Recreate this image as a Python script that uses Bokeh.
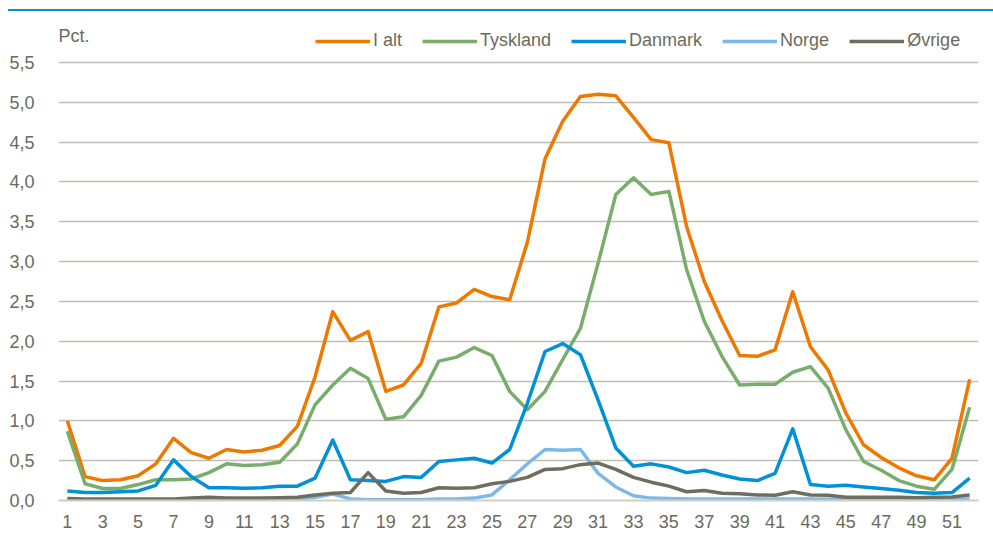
from bokeh.plotting import figure
from bokeh.models import (Range1d, FixedTicker, CustomJSTickFormatter, Legend, LegendItem,
                          Label, Div, ColumnDataSource)
from bokeh.layouts import column
from bokeh.embed import file_html
from bokeh.resources import INLINE

weeks = list(range(1, 53))
x_tick_labels = list(range(1, 53, 2))
y_ticks = [0.0, 0.5, 1.0, 1.5, 2.0, 2.5, 3.0, 3.5, 4.0, 4.5, 5.0, 5.5]

i_alt = [1.00, 0.30, 0.25, 0.26, 0.31, 0.46, 0.78, 0.60, 0.53, 0.64,
         0.61, 0.63, 0.69, 0.93, 1.55, 2.37, 2.01, 2.12, 1.37, 1.45,
         1.72, 2.43, 2.48, 2.65, 2.56, 2.52, 3.24, 4.29, 4.76, 5.07,
         5.10, 5.08, 4.81, 4.53, 4.49, 3.44, 2.75, 2.26, 1.82, 1.81,
         1.89, 2.62, 1.93, 1.64, 1.10, 0.70, 0.54, 0.41, 0.31, 0.26,
         0.53, 1.52]
tyskland = [0.87, 0.21, 0.15, 0.15, 0.20, 0.26, 0.26, 0.27, 0.35, 0.46,
            0.44, 0.45, 0.48, 0.71, 1.20, 1.45, 1.66, 1.53, 1.02, 1.05,
            1.32, 1.75, 1.80, 1.92, 1.82, 1.37, 1.14, 1.37, 1.77, 2.16,
            2.98, 3.84, 4.05, 3.84, 3.88, 2.90, 2.25, 1.81, 1.45, 1.46,
            1.46, 1.61, 1.68, 1.41, 0.89, 0.49, 0.38, 0.25, 0.18, 0.14,
            0.39, 1.17]
danmark = [0.12, 0.10, 0.10, 0.11, 0.12, 0.19, 0.51, 0.30, 0.16, 0.16,
           0.155, 0.16, 0.18, 0.18, 0.28, 0.76, 0.26, 0.25, 0.24, 0.30,
           0.29, 0.49, 0.51, 0.53, 0.47, 0.64, 1.22, 1.87, 1.97, 1.83,
           1.26, 0.66, 0.43, 0.46, 0.42, 0.35, 0.38, 0.32, 0.27, 0.25,
           0.34, 0.90, 0.20, 0.18, 0.19, 0.17, 0.15, 0.13, 0.10, 0.09,
           0.10, 0.28]
norge = [0.01, 0.01, 0.01, 0.01, 0.01, 0.01, 0.01, 0.01, 0.01, 0.01,
         0.01, 0.01, 0.01, 0.02, 0.04, 0.08, 0.02, 0.01, 0.01, 0.01,
         0.01, 0.02, 0.02, 0.03, 0.07, 0.26, 0.46, 0.64, 0.63, 0.64,
         0.34, 0.17, 0.06, 0.03, 0.025, 0.02, 0.02, 0.02, 0.02, 0.02,
         0.02, 0.02, 0.02, 0.015, 0.015, 0.01, 0.01, 0.01, 0.01, 0.01,
         0.01, 0.02]
ovrige = [0.025, 0.02, 0.02, 0.02, 0.02, 0.02, 0.02, 0.03, 0.04, 0.03,
          0.03, 0.03, 0.035, 0.04, 0.07, 0.09, 0.10, 0.35, 0.12, 0.09,
          0.10, 0.16, 0.155, 0.16, 0.21, 0.24, 0.29, 0.39, 0.40, 0.45,
          0.47, 0.39, 0.29, 0.23, 0.18, 0.11, 0.125, 0.09, 0.085, 0.07,
          0.065, 0.11, 0.07, 0.065, 0.04, 0.04, 0.04, 0.04, 0.035, 0.04,
          0.045, 0.07]

series_names = ["I alt", "Tyskland", "Danmark", "Norge", "Øvrige"]
series_values = [i_alt, tyskland, danmark, norge, ovrige]
series_colors = ["#EF7800", "#78AD6C", "#0091D6", "#7DB9E8", "#6E6E60"]

FONT = "Liberation Sans"
TEXT = "#6B6B5C"

p = figure(width=988, height=529, output_backend="svg", toolbar_location=None,
           x_range=Range1d(0.5, 52.5), y_range=Range1d(0, 6.0),
           min_border_left=58, min_border_right=10, min_border_top=11,
           min_border_bottom=40, margin=(0, 0, 0, 0))
p.outline_line_color = None
p.background_fill_color = "white"
p.border_fill_color = "white"

items = []
for name, vals, col in zip(series_names, series_values, series_colors):
    src = ColumnDataSource(dict(x=weeks, y=vals))
    r = p.line("x", "y", source=src, line_color=col, line_width=3.5, line_join="round")
    items.append(LegendItem(label=name, renderers=[r]))

legend = Legend(items=items, orientation="horizontal", location=(257, 449),
                glyph_width=55, glyph_height=20, label_height=20, label_standoff=3,
                spacing=20, padding=0, margin=0, border_line_color=None,
                background_fill_alpha=0, label_text_font=FONT,
                label_text_font_size="18px", label_text_color=TEXT)
p.add_layout(legend)

# axes
p.yaxis.ticker = FixedTicker(ticks=y_ticks)
p.yaxis.formatter = CustomJSTickFormatter(code="return tick.toFixed(1).replace('.', ',');")
p.yaxis.axis_line_color = None
p.yaxis.major_tick_line_color = None
p.yaxis.minor_tick_line_color = None
p.yaxis.major_label_standoff = 18
p.yaxis.major_label_text_font = FONT
p.yaxis.major_label_text_font_size = "18px"
p.yaxis.major_label_text_color = TEXT

p.xaxis.ticker = FixedTicker(ticks=x_tick_labels)
p.xaxis.axis_line_color = "#CFCFC6"
p.xaxis.axis_line_width = 2
p.xaxis.major_tick_line_color = None
p.xaxis.minor_tick_line_color = None
p.xaxis.major_label_standoff = 8
p.xaxis.major_label_text_font = FONT
p.xaxis.major_label_text_font_size = "18px"
p.xaxis.major_label_text_color = TEXT

p.xgrid.grid_line_color = None
p.ygrid.ticker = FixedTicker(ticks=y_ticks[1:])
p.ygrid.grid_line_color = "#BEBEB4"
p.ygrid.grid_line_width = 1.5

p.add_layout(Label(x=0.5, y=5.83, text="Pct.", text_align="left", text_baseline="middle",
                   text_font=FONT, text_font_size="18px", text_color=TEXT))

rule = Div(text="", width=985, height=2, margin=(9, 0, 0, 8),
           styles={"background-color": "#0A8FD4"})
layout = column(rule, p, spacing=0)

open("out.html", "w").write(file_html(layout, INLINE))
